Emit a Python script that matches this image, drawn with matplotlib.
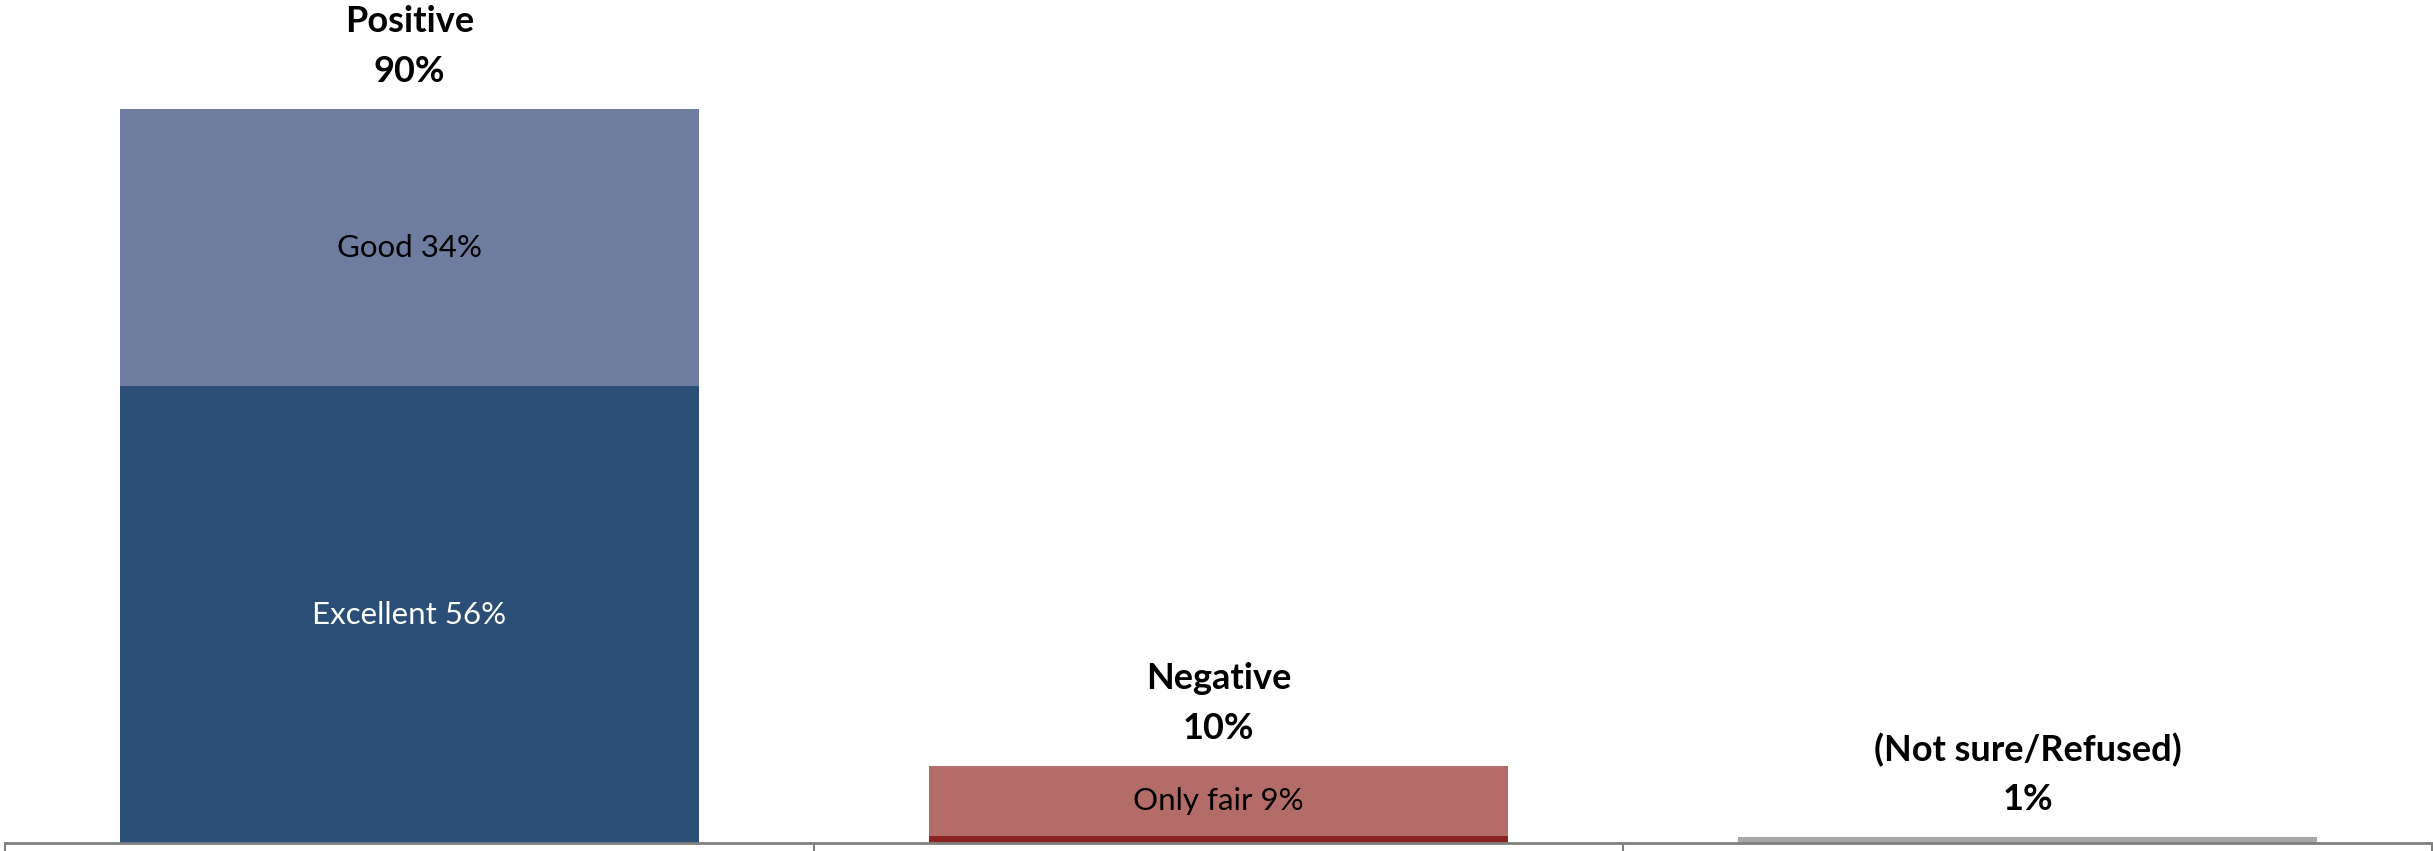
import matplotlib.pyplot as plt
import numpy as np

# данные
categories = ['Positive', 'Negative', '(Not sure/Refused)']
total_labels = ['90%', '10%', '1%']
excellent = [56, 0, 0]
good = [34, 0, 0]
poor = [0, 0.8, 0]
only_fair = [0, 8.7, 0]
unsure = [0, 0, 0.7]

seg_names = ['Excellent 56%', 'Good 34%', 'Poor', 'Only fair 9%', 'Not sure']
seg_values = [excellent, good, poor, only_fair, unsure]
seg_colors = ['#2a4e76', '#6e7ca0', '#8b2220', '#b46c68', '#a7a7aa']
seg_text = ['white', 'black', None, 'black', None]

plt.rcParams['font.family'] = ['Lato', 'DejaVu Sans']

fig = plt.figure(figsize=(24.33, 8.51), dpi=100)
ax = fig.add_axes([5/2433, 8/851, 2427/2433, 843/851])

x = np.arange(len(categories))
bottom = np.zeros(len(categories))
for name, vals, col, tc in zip(seg_names, seg_values, seg_colors, seg_text):
    vals = np.array(vals, dtype=float)
    ax.bar(x, vals, 0.716, bottom=bottom, color=col, edgecolor='none')
    if tc is not None:
        for i in range(len(x)):
            if vals[i] > 0:
                ax.text(x[i], bottom[i] + vals[i]/2, name, ha='center', va='center',
                        fontsize=22.5, color=tc)
    bottom = bottom + vals

# подписи над столбцами
for i in range(len(x)):
    ax.annotate(total_labels[i], (x[i], bottom[i]), xytext=(0, 27), textcoords='offset points',
                ha='center', va='center', fontsize=26, fontweight='bold')
    ax.annotate(categories[i], (x[i], bottom[i]), xytext=(0, 63), textcoords='offset points',
                ha='center', va='center', fontsize=26, fontweight='bold')

ax.set_xlim(-0.5, 2.5)
ax.set_ylim(0, 103.4)
ax.set_yticks([])
ax.set_xticks([-0.5, 0.5, 1.5, 2.5])
ax.set_xticklabels([])
ax.tick_params(axis='x', direction='out', length=6, width=1.5, color='#7f7f7f')
for s in ['top', 'left', 'right']:
    ax.spines[s].set_visible(False)
ax.spines['bottom'].set_color('#7f7f7f')
ax.spines['bottom'].set_linewidth(2)

fig.savefig('out.png', dpi=100)
